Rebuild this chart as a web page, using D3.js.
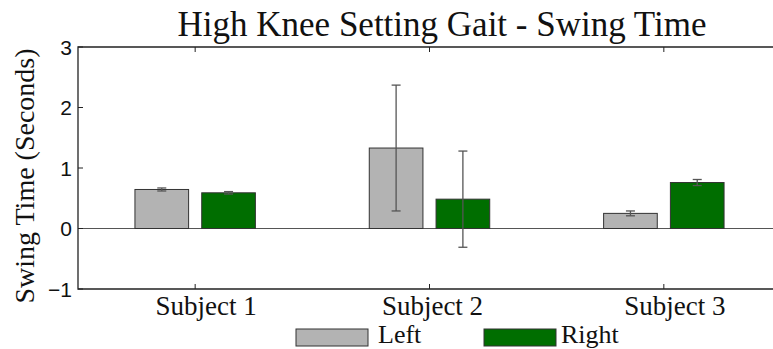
<!DOCTYPE html>
<html>
<head>
<meta charset="utf-8">
<script src="https://cdn.jsdelivr.net/npm/d3@7"></script>
<style>
  html, body { margin: 0; padding: 0; background: #fff; }
  svg { display: block; }
</style>
</head>
<body>
<svg id="chart" width="773" height="349"></svg>
<script>
// ---- data ----
const categories = ["Subject 1", "Subject 2", "Subject 3"];
const seriesNames = ["Left", "Right"];
const leftMeans  = [0.645, 1.33, 0.25];
const leftErrs   = [0.025, 1.04, 0.04];
const rightMeans = [0.59, 0.485, 0.76];
const rightErrs  = [0.02, 0.795, 0.05];
const yTicks = [-1, 0, 1, 2, 3];
const titleText = "High Knee Setting Gait - Swing Time";
const yLabelText = "Swing Time (Seconds)";

// ---- layout ----
const W = 773, H = 349;
const plotL = 78, plotR = 781, plotT = 47, plotB = 289;
const colors = ["#b3b3b3", "#006e00"];
const barWidth = 0.229, barOffset = 0.1425;
const labelNudge = [11, 3, 11];

const svg = d3.select("#chart");
const x = d3.scaleLinear().domain([0.5, 3.5]).range([plotL, plotR]);
const y = d3.scaleLinear().domain([-1, 3]).range([plotB, plotT]);

const series = [
  { name: seriesNames[0], means: leftMeans, errs: leftErrs, off: -barOffset, color: colors[0] },
  { name: seriesNames[1], means: rightMeans, errs: rightErrs, off: barOffset, color: colors[1] }
];

// zero baseline
svg.append("line")
  .attr("x1", plotL).attr("x2", plotR)
  .attr("y1", y(0)).attr("y2", y(0))
  .attr("stroke", "#555").attr("stroke-width", 1);

// bars
series.forEach(s => {
  svg.append("g").selectAll("rect")
    .data(s.means)
    .join("rect")
    .attr("x", (d, i) => x(i + 1 + s.off - barWidth / 2))
    .attr("width", x(barWidth) - x(0))
    .attr("y", d => y(Math.max(0, d)))
    .attr("height", d => Math.abs(y(d) - y(0)))
    .attr("fill", s.color)
    .attr("stroke", "#333")
    .attr("stroke-width", 1);
});

// error bars
series.forEach(s => {
  const g = svg.append("g").attr("stroke", "#555").attr("stroke-width", 1.3);
  s.means.forEach((m, i) => {
    const cx = x(i + 1 + s.off);
    const yt = y(m + s.errs[i]), yb = y(m - s.errs[i]);
    g.append("line").attr("x1", cx).attr("x2", cx).attr("y1", yt).attr("y2", yb);
    g.append("line").attr("x1", cx - 4.5).attr("x2", cx + 4.5).attr("y1", yt).attr("y2", yt);
    g.append("line").attr("x1", cx - 4.5).attr("x2", cx + 4.5).attr("y1", yb).attr("y2", yb);
  });
});

// axes box
const axisG = svg.append("g").attr("stroke", "#222").attr("stroke-width", 1.3).attr("fill", "none");
axisG.append("path")
  .attr("d", `M${plotR},${plotT}H${plotL}V${plotB}H${plotR}`);

// y ticks (inward) and labels
yTicks.forEach(t => {
  axisG.append("line").attr("x1", plotL).attr("x2", plotL + 5).attr("y1", y(t)).attr("y2", y(t)).attr("stroke-width", 1);
});
svg.append("g").selectAll("text")
  .data(yTicks)
  .join("text")
  .attr("x", 72)
  .attr("y", d => y(d))
  .attr("dy", "0.36em")
  .attr("text-anchor", "end")
  .attr("font-family", "Liberation Sans, Arial, sans-serif")
  .attr("font-size", 21)
  .attr("fill", "#111")
  .text(d => d < 0 ? "\u2212" + Math.abs(d) : d);

// x ticks (inward at top and bottom) and labels
categories.forEach((c, i) => {
  const px = x(i + 1);
  axisG.append("line").attr("x1", px).attr("x2", px).attr("y1", plotB).attr("y2", plotB - 5).attr("stroke-width", 1);
  axisG.append("line").attr("x1", px).attr("x2", px).attr("y1", plotT).attr("y2", plotT + 5).attr("stroke-width", 1);
});
svg.append("g").selectAll("text")
  .data(categories)
  .join("text")
  .attr("x", (d, i) => x(i + 1) + labelNudge[i])
  .attr("y", 315)
  .attr("text-anchor", "middle")
  .attr("font-family", "Liberation Serif, Times New Roman, serif")
  .attr("font-size", 27)
  .attr("fill", "#111")
  .text(d => d);

// title
svg.append("text")
  .attr("x", 442).attr("y", 36)
  .attr("text-anchor", "middle")
  .attr("font-family", "Liberation Serif, Times New Roman, serif")
  .attr("font-size", 35)
  .attr("fill", "#111")
  .text(titleText);

// y label
svg.append("text")
  .attr("transform", `translate(34,176) rotate(-90)`)
  .attr("text-anchor", "middle")
  .attr("font-family", "Liberation Serif, Times New Roman, serif")
  .attr("font-size", 28)
  .attr("fill", "#111")
  .text(yLabelText);

// legend
const legendItems = [
  { name: seriesNames[0], color: colors[0], rx: 296, tx: 378 },
  { name: seriesNames[1], color: colors[1], rx: 484, tx: 561 }
];
const lg = svg.append("g");
legendItems.forEach(it => {
  lg.append("rect")
    .attr("x", it.rx).attr("y", 329)
    .attr("width", 72).attr("height", 17)
    .attr("fill", it.color).attr("stroke", "#333").attr("stroke-width", 1);
  lg.append("text")
    .attr("x", it.tx).attr("y", 343)
    .attr("font-family", "Liberation Serif, Times New Roman, serif")
    .attr("font-size", 26)
    .attr("fill", "#111")
    .text(it.name);
});
</script>
</body>
</html>
